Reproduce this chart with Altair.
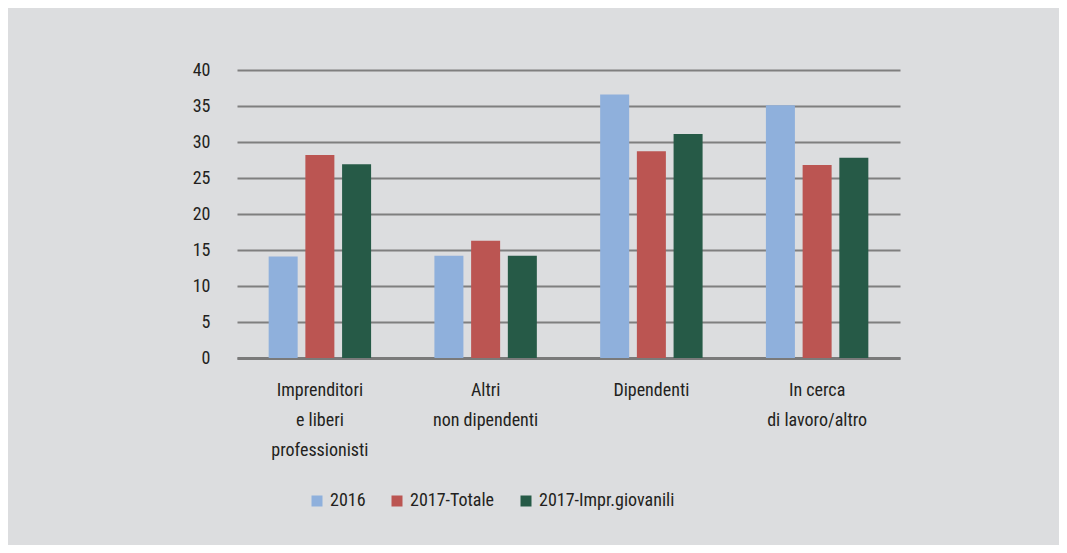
import altair as alt
import pandas as pd

categories = [
    "Imprenditori|e liberi|professionisti",
    "Altri|non dipendenti",
    "Dipendenti",
    "In cerca|di lavoro/altro",
]
series = ["2016", "2017-Totale", "2017-Impr.giovanili"]
values_2016 = [14.1, 14.2, 36.6, 35.1]
values_2017_tot = [28.2, 16.3, 28.7, 26.8]
values_2017_giov = [26.9, 14.2, 31.1, 27.8]
colors = ["#8FB0DC", "#BB5552", "#265A47"]
y_ticks = [0, 5, 10, 15, 20, 25, 30, 35, 40]

rows = []
for s, vals in zip(series, [values_2016, values_2017_tot, values_2017_giov]):
    for c, v in zip(categories, vals):
        rows.append({"cat": c, "series": s, "value": v})
df = pd.DataFrame(rows)

FONT = "'Liberation Sans Narrow', 'Roboto Condensed', 'Open Sans Condensed', 'DejaVu Sans Condensed', 'Liberation Sans', sans-serif"
TXT = "#231F20"
FS = 18

chart = (
    alt.Chart(df)
    .mark_bar()
    .encode(
        x=alt.X(
            "cat:N",
            sort=categories,
            scale=alt.Scale(paddingInner=0.382, paddingOuter=0.191),
            axis=alt.Axis(
                title=None,
                labelAngle=0,
                labelExpr="split(datum.label, '|')",
                labelLineHeight=30,
                labelFontSize=FS,
                labelColor=TXT,
                labelPadding=23,
                labelBaseline="top",
                ticks=False,
                domain=True,
                domainColor="#7A7A7A",
                domainWidth=3,
            ),
        ),
        xOffset=alt.XOffset(
            "series:N", sort=series, scale=alt.Scale(paddingInner=0.21, paddingOuter=0)
        ),
        y=alt.Y(
            "value:Q",
            scale=alt.Scale(domain=[0, 40]),
            axis=alt.Axis(
                title=None,
                values=y_ticks,
                domain=False,
                ticks=False,
                grid=True,
                gridColor="#7F7F7F",
                gridWidth=2,
                labelFontSize=FS,
                labelColor=TXT,
                labelPadding=27,
            ),
        ),
        color=alt.Color(
            "series:N",
            sort=series,
            scale=alt.Scale(domain=series, range=colors),
            legend=alt.Legend(
                title=None,
                orient="none",
                legendX=71,
                legendY=422,
                direction="horizontal",
                columns=3,
                symbolType="square",
                symbolSize=121,
                symbolStrokeWidth=0,
                labelFontSize=FS,
                labelColor=TXT,
                labelOffset=4,
                columnPadding=22,
                padding=0,
            ),
        ),
    )
    .properties(
        width=663,
        height=288,
        autosize=alt.AutoSizeParams(type="none"),
        padding={"left": 229, "top": 62, "right": 159, "bottom": 187},
        background="#DCDDDF",
    )
    .configure(font=FONT)
    .configure_view(stroke=None)
)

chart.save("out.html", embed_options={"renderer": "svg", "actions": False})
